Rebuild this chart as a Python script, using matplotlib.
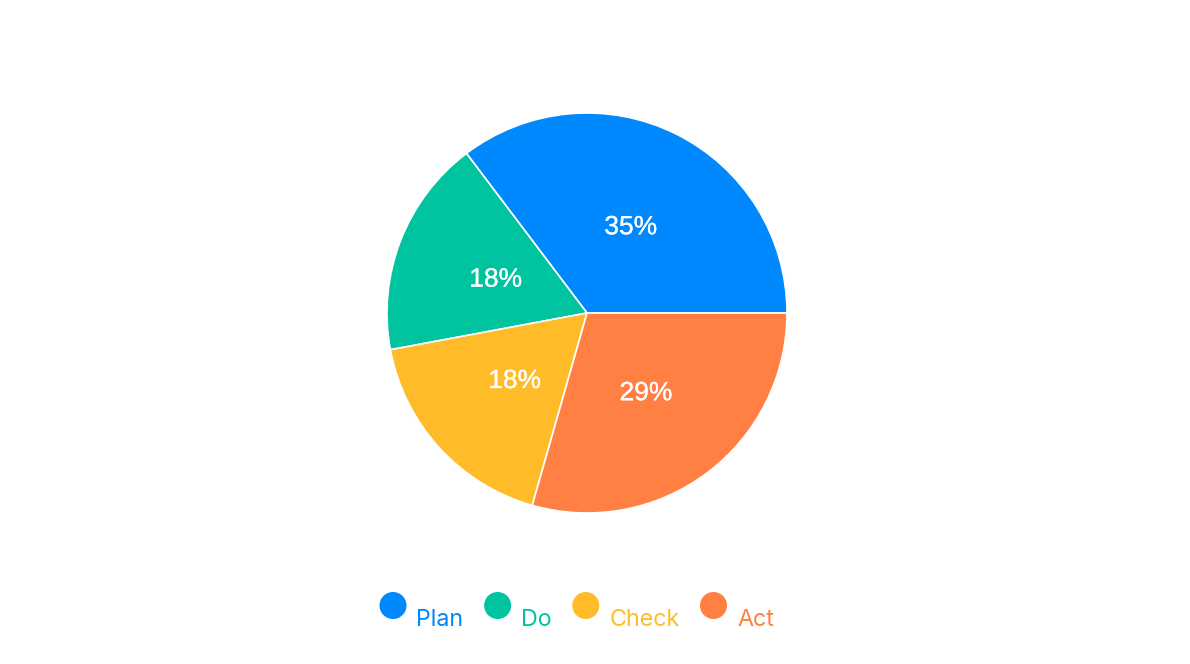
import matplotlib
matplotlib.use("Agg")
import matplotlib.pyplot as plt
import matplotlib.patheffects as pe
from matplotlib.patches import Circle

# data
labels = ["Plan", "Do", "Check", "Act"]
values = [6, 3, 3, 5]
colors = ["#0088FE", "#00C49F", "#FFBB28", "#FF8042"]

W, H = 1190, 664
fig = plt.figure(figsize=(W / 100, H / 100), dpi=100)

# pie: center (587, 313), radius 200 px
cx, cy, r = 587, 313, 200
ax = fig.add_axes([(cx - r) / W, (H - cy - r) / H, 2 * r / W, 2 * r / H])
wedges, texts, autotexts = ax.pie(
    values, colors=colors, startangle=0, counterclock=True,
    autopct="%1.0f%%", pctdistance=0.49,
    wedgeprops=dict(edgecolor="white", linewidth=1.2),
    textprops=dict(color="white", fontsize=19, family="Liberation Sans"),
)
# nudge labels down a little so cap height is centred
for t in autotexts:
    px, py = t.get_position()
    t.set_position((px, py - 0.01))
    t.set_path_effects([pe.withStroke(linewidth=0.2, foreground="white")])
ax.set_xlim(-1, 1)
ax.set_ylim(-1, 1)
ax.set_aspect("equal")
ax.axis("off")

# legend drawn in pixel coordinates
lax = fig.add_axes([0, 0, 1, 1])
lax.set_xlim(0, W)
lax.set_ylim(H, 0)
lax.axis("off")
fig.canvas.draw()
renderer = fig.canvas.get_renderer()

x = 393
for lab, col in zip(labels, colors):
    lax.add_patch(Circle((x, 605.5), 13.5, color=col, lw=0))
    t = lax.text(x + 23.5, 626, lab, color=col, fontsize=16.75,
                 family=["Inter", "DejaVu Sans"], va="baseline", ha="left")
    bb = t.get_window_extent(renderer)
    x = x + 23.5 + bb.width + 34

fig.savefig("out.png", dpi=100, facecolor="white")
